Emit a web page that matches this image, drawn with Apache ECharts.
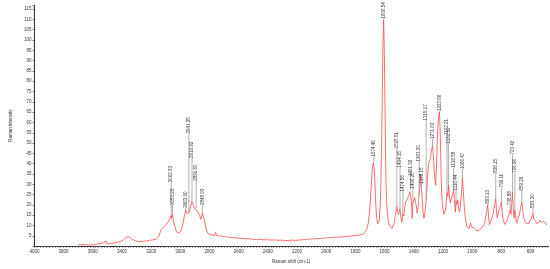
<!DOCTYPE html>
<html>
<head>
<meta charset="utf-8">
<script src="https://cdn.jsdelivr.net/npm/echarts@6/dist/echarts.min.js"></script>
<style>
  html, body { margin: 0; padding: 0; background: #fff; }
  #chart { width: 550px; height: 269px; }
</style>
</head>
<body>
<div id="chart"></div>
<script>
// Raman shift (cm-1), descending, and intensity
const shifts = [
  3700, 3688, 3676, 3664, 3652, 3640, 3628, 3616, 3604, 3592, 3580, 3568, 3556, 3544, 3532, 3520,
  3508, 3500, 3490, 3478, 3466, 3454, 3442, 3430, 3418, 3406, 3394, 3382, 3372, 3362, 3354, 3344,
  3332, 3320, 3308, 3296, 3284, 3272, 3260, 3248, 3236, 3224, 3212, 3200, 3188, 3176, 3166, 3158,
  3150, 3140, 3132, 3124, 3115, 3105, 3095, 3085, 3075, 3068, 3062.63, 3058, 3053.22, 3047, 3038, 3028,
  3018, 3008, 2998, 2988, 2980, 2972, 2963.9, 2956, 2950, 2945, 2941.25, 2935, 2928, 2919.92, 2912, 2905,
  2898, 2891.6, 2884, 2876, 2868, 2860, 2855, 2848.93, 2842, 2835, 2826, 2816, 2806, 2795, 2785, 2775,
  2765, 2758, 2750, 2740, 2730, 2720, 2710, 2700, 2690, 2680, 2670, 2660, 2650, 2640, 2630, 2620,
  2610, 2600, 2590, 2580, 2570, 2560, 2550, 2540, 2530, 2520, 2510, 2500, 2490, 2480, 2470, 2460,
  2450, 2440, 2430, 2420, 2410, 2400, 2390, 2380, 2370, 2360, 2350, 2340, 2330, 2320, 2310, 2300,
  2290, 2280, 2270, 2260, 2250, 2240, 2230, 2220, 2210, 2200, 2190, 2180, 2170, 2160, 2150, 2140,
  2130, 2120, 2110, 2100, 2090, 2080, 2070, 2060, 2050, 2040, 2030, 2020, 2010, 2000, 1990, 1980,
  1970, 1960, 1950, 1940, 1930, 1920, 1910, 1900, 1890, 1880, 1870, 1860, 1850, 1840, 1830, 1820,
  1810, 1800, 1790, 1780, 1770, 1760, 1745, 1732, 1722, 1712, 1704, 1697, 1690, 1684, 1677, 1674.46,
  1670, 1665, 1660, 1654, 1648, 1642, 1636, 1630, 1625, 1620, 1615, 1611, 1606.54, 1602, 1598, 1594,
  1590, 1585, 1580, 1574, 1566, 1557, 1548, 1540, 1533, 1527, 1521, 1515.81, 1510, 1505, 1500, 1494.15,
  1488, 1482, 1478, 1474.56, 1468, 1462, 1456, 1450, 1444, 1438, 1432, 1427, 1421.32, 1416, 1411, 1406.25,
  1400, 1393, 1388, 1382, 1376, 1370, 1363.2, 1358, 1354, 1348.15, 1343, 1337, 1331, 1325, 1320, 1315.17,
  1310, 1304, 1298, 1290, 1284, 1278, 1271.63, 1266, 1261, 1256, 1250, 1245, 1240, 1235, 1229, 1223.66,
  1218, 1212, 1206, 1200, 1194, 1188, 1182, 1177, 1172.21, 1166, 1161.32, 1155, 1150, 1144, 1138, 1132,
  1126.58, 1120, 1115, 1110.44, 1104, 1098, 1092, 1086, 1080, 1074, 1066.47, 1060, 1054, 1048, 1043, 1037,
  1032, 1026, 1020, 1015, 1010, 1005, 998, 992, 987, 980, 975, 969, 963, 958, 952, 946,
  940, 934, 928, 922, 916, 910, 904, 898, 893.13, 887, 881, 875, 868, 862, 856, 850,
  844, 838.15, 832, 828, 822, 816, 810, 805, 799.11, 794, 788, 783, 776, 770, 764, 758,
  752, 745, 738.88, 733, 728, 723.42, 718, 712, 706.96, 700, 694, 688, 683, 677, 671, 665,
  659.29, 653, 647, 642, 635, 628, 620, 613, 606, 600, 594, 588, 583.3, 577, 571, 565,
  558, 552, 547, 541, 535, 529, 523, 518, 513, 508, 502, 496, 490, 486
];
const intensity = [
  0.8, 1.1, 0.6, 1.0, 0.7, 1.2, 0.5, 0.9, 0.6, 1.1, 0.7, 0.9, 1.2, 0.8, 1.4, 1.0,
  2.4, 1.1, 0.8, 1.3, 0.6, 1.5, 1.1, 1.8, 1.4, 2.3, 2.6, 3.4, 4.4, 5.3, 4.6, 3.8,
  3.4, 3.0, 2.5, 2.7, 2.2, 2.6, 2.3, 2.9, 2.5, 3.1, 2.8, 3.2, 3.0, 3.5, 3.4, 3.8,
  4.4, 6.3, 8.1, 8.6, 9.2, 10.0, 10.6, 11.6, 12.8, 13.6, 14.8, 13.4, 15.6, 12.0, 9.6, 7.4,
  6.3, 5.9, 7.0, 9.0, 11.5, 15.0, 17.5, 15.8, 15.2, 15.6, 16.2, 15.4, 17.0, 21.5, 20.0, 19.2,
  17.8, 18.4, 17.2, 16.5, 15.0, 13.0, 12.6, 15.9, 14.6, 12.2, 9.2, 6.8, 5.8, 5.2, 5.5, 4.8,
  5.1, 6.6, 5.0, 4.6, 5.0, 4.4, 4.7, 4.2, 4.5, 4.0, 4.3, 3.9, 4.2, 3.8, 4.1, 3.6,
  3.9, 3.5, 3.8, 3.4, 3.7, 3.3, 3.6, 3.2, 3.5, 3.1, 3.4, 3.0, 3.2, 2.9, 3.1, 2.8,
  3.3, 2.9, 3.0, 2.7, 3.1, 2.8, 3.0, 2.6, 2.9, 2.7, 3.0, 2.6, 2.8, 2.5, 2.9, 2.6,
  2.8, 2.5, 2.7, 2.4, 2.8, 2.6, 2.9, 2.6, 2.8, 2.5, 2.9, 2.7, 3.0, 2.8, 3.2, 2.9,
  3.3, 3.0, 3.4, 3.1, 3.5, 3.2, 3.6, 3.3, 3.7, 3.4, 3.8, 3.5, 3.9, 3.6, 4.0, 3.7,
  4.1, 3.8, 4.2, 3.9, 4.3, 4.0, 4.4, 4.1, 4.5, 4.2, 4.6, 4.3, 4.8, 4.4, 4.9, 4.5,
  5.0, 4.6, 5.1, 4.8, 5.4, 5.0, 5.9, 6.6, 8.2, 11.0, 16.0, 22.5, 30.5, 37.5, 40.5, 41.0,
  37.0, 28.0, 19.5, 13.5, 10.8, 10.2, 12.5, 20.0, 32.0, 52.0, 78.0, 98.0, 109.8, 96.0, 72.0, 47.0,
  30.0, 20.5, 15.5, 12.0, 9.8, 9.0, 8.6, 8.8, 11.5, 15.0, 17.0, 19.2, 16.5, 15.2, 16.6, 18.2,
  14.0, 11.5, 12.5, 15.8, 14.6, 19.0, 21.5, 22.0, 22.8, 23.5, 25.0, 26.5, 27.2, 21.5, 13.5, 20.5,
  19.8, 23.5, 24.0, 19.0, 16.0, 19.0, 24.8, 30.0, 35.0, 28.5, 24.0, 17.0, 13.5, 15.0, 19.0, 22.0,
  28.0, 35.0, 40.0, 42.0, 43.5, 47.0, 48.5, 44.0, 38.0, 33.0, 29.5, 37.0, 48.5, 58.0, 63.5, 65.2,
  53.0, 33.0, 22.0, 18.0, 15.5, 15.0, 17.5, 22.0, 26.2, 24.0, 29.7, 24.5, 21.0, 21.5, 24.0, 24.8,
  27.0, 21.0, 16.5, 22.0, 20.0, 22.5, 18.0, 16.5, 20.0, 25.0, 33.3, 26.0, 19.5, 14.5, 12.0, 9.5,
  8.8, 9.6, 8.6, 10.2, 11.2, 9.4, 10.3, 8.6, 8.9, 8.0, 8.5, 7.4, 7.2, 8.1, 7.6, 8.4,
  7.9, 9.0, 8.4, 9.8, 10.5, 13.0, 15.5, 18.0, 19.8, 14.0, 10.4, 11.8, 12.8, 12.0, 15.5, 18.3,
  20.5, 23.0, 16.0, 13.6, 15.5, 17.8, 17.0, 19.5, 21.4, 17.0, 13.0, 11.8, 10.5, 9.6, 11.0, 13.0,
  14.8, 16.2, 17.5, 15.5, 15.9, 26.2, 18.0, 13.6, 17.5, 13.5, 11.2, 12.5, 14.0, 15.1, 17.0, 19.5,
  21.4, 17.0, 14.0, 12.8, 12.2, 11.0, 11.5, 10.8, 12.0, 11.6, 12.8, 14.5, 15.9, 13.0, 12.2, 12.0,
  11.0, 10.6, 10.4, 11.5, 12.6, 12.8, 11.5, 11.0, 11.2, 12.0, 12.3, 11.2, 10.4, 10.8
];

// labelled peaks: position, intensity at the peak, level where the label starts
const peakShifts = [
  3062.63, 3053.22, 2963.9, 2941.25, 2919.92, 2891.6, 2848.93,
  1674.46, 1606.54, 1515.81, 1494.15, 1474.56, 1421.32, 1406.25, 1363.2, 1348.15, 1315.17, 1271.63,
  1223.66, 1172.21, 1161.32, 1126.58, 1110.44, 1066.47,
  893.13, 838.15, 799.11, 738.88, 723.42, 706.96, 659.29, 583.3
];
const peakValues = [
  14.8, 15.6, 17.5, 16.2, 21.5, 18.4, 15.9,
  41.0, 109.8, 19.2, 18.2, 15.8, 27.2, 20.5, 24.8, 28.5, 22.0, 48.5,
  65.2, 26.2, 29.7, 27.0, 22.0, 33.3,
  19.8, 23.0, 21.4, 17.5, 26.2, 17.5, 21.4, 15.9
];
const peakLabelLevels = [
  31, 20, 18.6, 54.6, 42.7, 31.7, 19.9,
  43.5, 110.5, 47.5, 38.2, 26.5, 34, 28, 41, 30.3, 61, 52,
  65.6, 54, 49.8, 38, 27, 37.4,
  20.5, 35.6, 28.5, 19.9, 44.5, 35.6, 27, 18.5
];

// axis ticks
const xTickLabels = [4000, 3800, 3600, 3400, 3200, 3000, 2800, 2600, 2400, 2200, 2000, 1800, 1600, 1400, 1200, 1000, 800, 600];
const xMinorTicks = [];
for (let v = 4000; v >= 480; v -= 20) xMinorTicks.push(v);

const chart = echarts.init(document.getElementById('chart'), null, { renderer: 'canvas' });

const option = {
  animation: false,
  grid: { left: 28, right: 2, top: 5, bottom: 17 },
  xAxis: {
    type: 'value',
    inverse: true,
    min: 480,
    max: 4000,
    name: 'Raman shift (cm-1)',
    nameLocation: 'middle',
    nameGap: 8,
    nameTextStyle: { fontSize: 4.5, color: '#333', fontFamily: 'Liberation Sans' },
    axisLine: { lineStyle: { color: '#333', width: 1 } },
    axisTick: { customValues: xMinorTicks, length: 2, lineStyle: { color: '#555', width: 0.6 } },
    axisLabel: {
      customValues: xTickLabels,
      fontSize: 4.5,
      color: '#333',
      margin: 3,
      fontFamily: 'Liberation Sans',
      formatter: function (v) { return String(v); }
    },
    splitLine: { show: false }
  },
  yAxis: {
    type: 'value',
    min: 0,
    max: 117,
    interval: 5,
    name: 'Raman intensity',
    nameLocation: 'middle',
    nameGap: 17,
    nameTextStyle: { fontSize: 4.5, color: '#333', fontFamily: 'Liberation Sans' },
    axisLine: { show: true, lineStyle: { color: '#333', width: 1 } },
    axisTick: { show: true, length: 2, lineStyle: { color: '#333', width: 0.6 } },
    minorTick: { show: true, splitNumber: 5, length: 1, lineStyle: { color: '#666', width: 0.5 } },
    axisLabel: {
      fontSize: 4.5,
      color: '#333',
      margin: 3,
      fontFamily: 'Liberation Sans',
      formatter: function (v) { return v === 0 ? '' : v; }
    },
    splitLine: { show: false }
  },
  series: [
    {
      type: 'line',
      data: shifts.map((s, i) => [s, intensity[i]]),
      showSymbol: false,
      lineStyle: { color: '#ff4a4a', width: 0.8 },
      z: 2
    },
    {
      type: 'custom',
      data: peakShifts.map((s, i) => [s, peakValues[i], peakLabelLevels[i]]),
      z: 3,
      renderItem: function (params, api) {
        const p0 = api.coord([api.value(0), api.value(1)]);
        const p1 = api.coord([api.value(0), api.value(2)]);
        const label = peakShifts[params.dataIndex].toFixed(2);
        return {
          type: 'group',
          children: [
            {
              type: 'line',
              shape: { x1: p0[0], y1: p0[1], x2: p1[0], y2: p1[1] },
              style: { stroke: '#9a9a9a', lineWidth: 0.8 }
            },
            {
              type: 'text',
              x: p1[0],
              y: p1[1],
              rotation: Math.PI / 2,
              style: {
                text: label,
                fontSize: 4.5,
                fontFamily: 'Liberation Sans',
                fill: '#333',
                align: 'left',
                verticalAlign: 'middle'
              }
            }
          ]
        };
      }
    }
  ]
};

chart.setOption(option);
</script>
</body>
</html>
